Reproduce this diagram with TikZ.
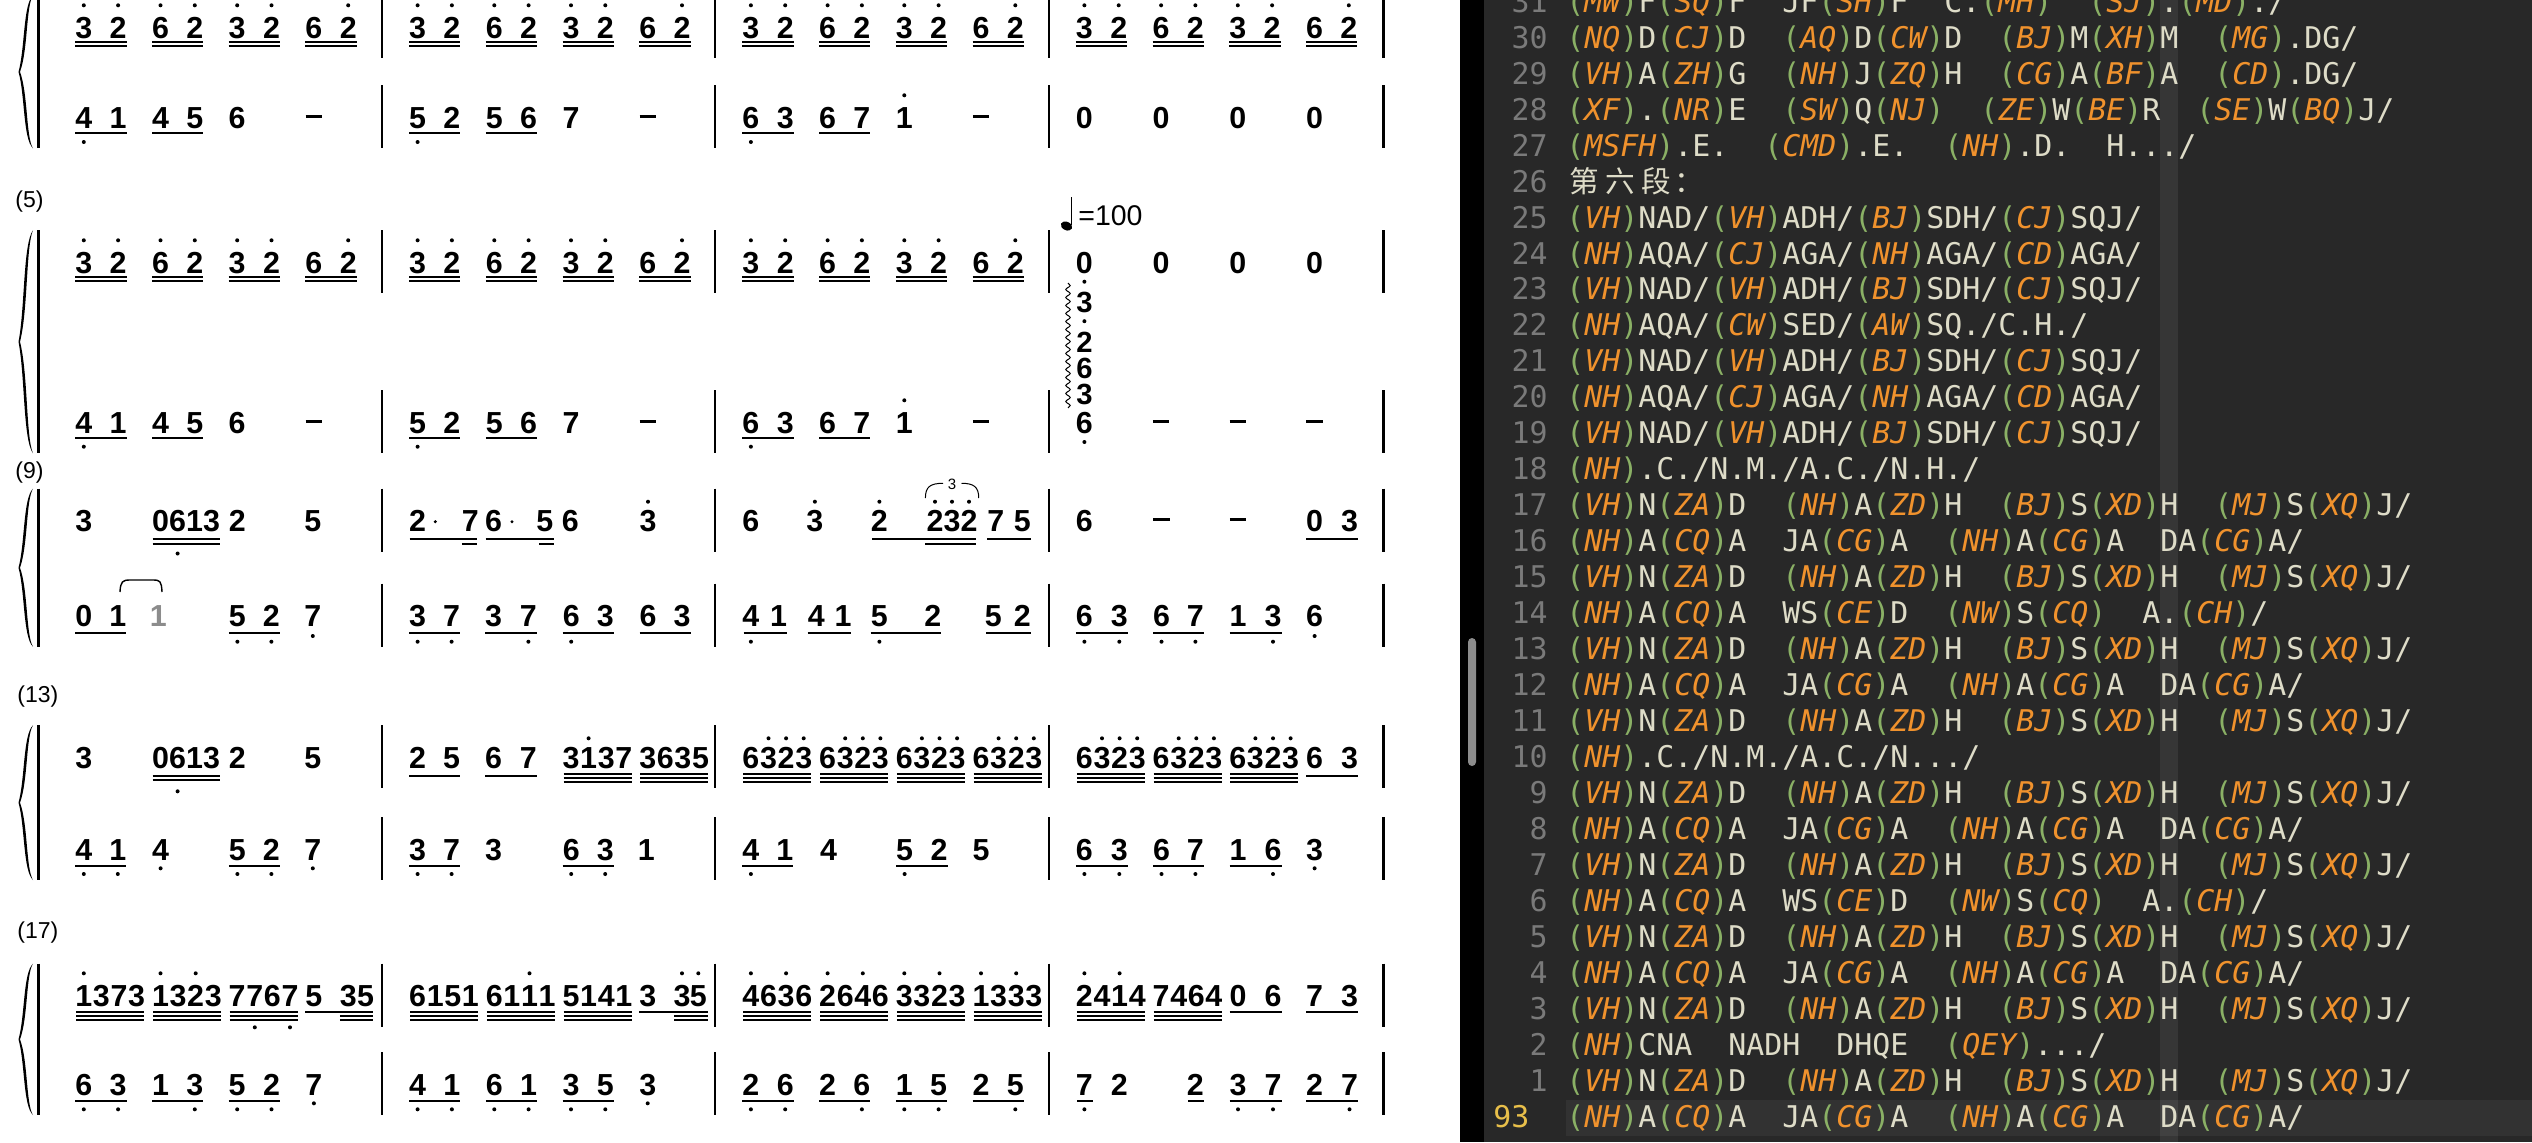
\documentclass[tikz,border=0pt]{standalone}
\usepackage{fontspec}
\usetikzlibrary{decorations.pathmorphing}
\newfontfamily\mfont{Liberation Sans}
\newfontfamily\mono{DejaVu Sans Mono}
\newfontfamily\cjk{Noto Sans CJK SC}
\definecolor{edbg}{HTML}{282828}
\definecolor{strp}{HTML}{363636}
\definecolor{strpb}{HTML}{414141}
\definecolor{curl}{HTML}{323232}
\definecolor{pg}{HTML}{8AB065}
\definecolor{po}{HTML}{F0922D}
\definecolor{ct}{HTML}{DEDCC8}
\definecolor{lnc}{HTML}{7A7A7A}
\definecolor{lcur}{HTML}{E8BF4A}
\definecolor{sbc}{HTML}{8C8C8C}
\newcounter{nc}
\tikzset{
  nt/.style={font=\mfont\bfseries\fontsize{15.2}{18}\selectfont, inner sep=0pt, anchor=base},
  chd/.style={font=\mfont\bfseries\fontsize{14.6}{17}\selectfont, inner sep=0pt, anchor=base},
  lbl/.style={font=\mfont\fontsize{11.5}{14}\selectfont, inner sep=0pt, anchor=west},
  ul/.style={line width=0.9pt},
  dsh/.style={line width=1.3pt},
  bar/.style={line width=1.2pt},
  sysline/.style={line width=1.5pt},
  lnum/.style={font=\mono\fontsize{14.95}{18}\selectfont, text=lnc, inner sep=0pt, anchor=base east},
  code/.style={font=\mono\fontsize{14.95}{18}\selectfont, text=ct, inner sep=0pt, anchor=base west},
  cjkn/.style={font=\cjk\fontsize{14.8}{18}\selectfont, text=ct, inner sep=0pt, anchor=base}
}
% music helpers
\newcommand\nn[2]{\stepcounter{nc}\node[nt] (n\arabic{nc}) at (#1,\yb) {#2};}
\newcommand\da[1]{\fill (#1,\yb-\dau) circle[radius=1pt];}
\newcommand\db[2]{\fill (#1,\yb+#2) circle[radius=1pt];}
\newcommand\ulx[3]{\draw[ul] (#1,\yb+#3) -- (#2,\yb+#3);}
\newcommand\dsh[1]{\draw[dsh] (#1-8.2,\yb-12) -- (#1+8.2,\yb-12);}
\newcommand\ad[1]{\fill (#1,\yb-10) circle[radius=0.85pt];}
\newcommand\prr[4]{\nn{#1}{#3}\nn{#2}{#4}\ulx{#1-8.5}{#2+8.5}{\ulo}}
\newcommand\grp[5]{\nn{#1}{#2}\nn{#1+17.6}{#3}\nn{#1+35.2}{#4}\nn{#1+52.8}{#5}%
  \ulx{#1-7.5}{#1+60.5}{\ga}\ulx{#1-7.5}{#1+60.5}{\gb}\ulx{#1-7.5}{#1+60.5}{\gc}}
\newcommand\uppat[1]{%
  \nn{#1}{3}\nn{#1+34.3}{2}\nn{#1+76.7}{6}\nn{#1+111}{2}%
  \nn{#1+153.4}{3}\nn{#1+187.7}{2}\nn{#1+230.1}{6}\nn{#1+264.4}{2}%
  \da{#1}\da{#1+34.3}\da{#1+76.7}\da{#1+111}\da{#1+153.4}\da{#1+187.7}\da{#1+264.4}%
  \foreach \kk in {0,76.7,153.4,230.1}{\ulx{#1+\kk-8.5}{#1+\kk+42.8}{3.8}\ulx{#1+\kk-8.5}{#1+\kk+42.8}{7.6}}}
\newcommand\lowpat[6]{%
  \nn{#1}{#2}\nn{#1+34.3}{#3}\db{#1}{\dbu}\ulx{#1-8.5}{#1+42.8}{\ulo}%
  \nn{#1+76.7}{#4}\nn{#1+111}{#5}\ulx{#1+68.2}{#1+119.5}{\ulo}%
  \nn{#1+153.4}{#6}\dsh{#1+230.1}}
\newcommand\brc[2]{\pgfmathsetmacro\bt{#1}\pgfmathsetmacro\bb{#2}%
  \pgfmathsetmacro\bmid{(\bt+\bb)/2}\pgfmathsetmacro\bh{(\bb-\bt)/2}%
  \fill (33,\bt) .. controls (23,\bt+0.12*\bh) and (25,\bmid-0.3*\bh) .. (18.5,\bmid)
    .. controls (25,\bmid+0.3*\bh) and (23,\bb-0.12*\bh) .. (33,\bb)
    .. controls (26,\bb-0.14*\bh) and (28,\bmid+0.28*\bh) .. (20,\bmid)
    .. controls (28,\bmid-0.28*\bh) and (26,\bt+0.14*\bh) .. (33,\bt) -- cycle;}
\newcommand\sysl[2]{%
  \draw[sysline] (38.6,#1-43) -- (38.6,#2+20);
  \foreach \bx in {382,715,1049,1383.5}{\draw[bar] (\bx,#1-43) -- (\bx,#1+20); \draw[bar] (\bx,#2-43) -- (\bx,#2+20);}
  \brc{#1-43}{#2+20}}
% editor helpers
\newcommand\pq[1]{\textcolor{pg}{(}\textcolor{po}{\itshape #1}\textcolor{pg}{)}}
\newcommand\sk{\hphantom{0}}
\newcommand\eline[3]{\node[lnum] (ln#1) at (1548,{12.3+35.96*#1}) {#2};\node[code] (cl#1) at (1566,{12.3+35.96*#1}) {#3};}
\newcommand\LA{\pq{VH}N\pq{ZA}D\sk\sk\pq{NH}A\pq{ZD}H\sk\sk\pq{BJ}S\pq{XD}H\sk\sk\pq{MJ}S\pq{XQ}J/}
\newcommand\LB{\pq{NH}A\pq{CQ}A\sk\sk JA\pq{CG}A\sk\sk\pq{NH}A\pq{CG}A\sk\sk DA\pq{CG}A/}
\newcommand\LC{\pq{NH}A\pq{CQ}A\sk\sk WS\pq{CE}D\sk\sk\pq{NW}S\pq{CQ}\sk\sk A.\pq{CH}/}
\newcommand\LD{\pq{VH}NAD/\pq{VH}ADH/\pq{BJ}SDH/\pq{CJ}SQJ/}
\newcommand\LE{\pq{NH}AQA/\pq{CJ}AGA/\pq{NH}AGA/\pq{CD}AGA/}
\begin{document}
\begin{tikzpicture}[x=0.5pt,y=-0.5pt]
\useasboundingbox (0,0) rectangle (2532,1142);
\fill[white] (0,0) rectangle (1460,1142);
% ===== editor panel =====
\fill[black] (1460,0) rectangle (1484,1142);
\fill[edbg] (1484,0) rectangle (2532,1142);
\fill[sbc, rounded corners=2pt] (1468,638) rectangle (1476,766);
\fill[curl] (1566,1100) rectangle (2532,1136);
\fill[strp] (2160,0) rectangle (2178,1142);
\fill[strpb] (2160,1100) rectangle (2178,1136);
\eline{0}{31}{\pq{MW}F\pq{SQ}F\sk\sk JF\pq{SH}F\sk\sk C.\pq{MH}\sk\sk\pq{SJ}.\pq{MD}./}
\eline{1}{30}{\pq{NQ}D\pq{CJ}D\sk\sk\pq{AQ}D\pq{CW}D\sk\sk\pq{BJ}M\pq{XH}M\sk\sk\pq{MG}.DG/}
\eline{2}{29}{\pq{VH}A\pq{ZH}G\sk\sk\pq{NH}J\pq{ZQ}H\sk\sk\pq{CG}A\pq{BF}A\sk\sk\pq{CD}.DG/}
\eline{3}{28}{\pq{XF}.\pq{NR}E\sk\sk\pq{SW}Q\pq{NJ}\sk\sk\pq{ZE}W\pq{BE}R\sk\sk\pq{SE}W\pq{BQ}J/}
\eline{4}{27}{\pq{MSFH}.E.\sk\sk\pq{CMD}.E.\sk\sk\pq{NH}.D.\sk\sk H.../}
\node[lnum] (ln5) at (1548,192.1) {26};
\node[cjkn] (cj1) at (1584,192.1) {第};
\node[cjkn] (cj2) at (1620,192.1) {六};
\node[cjkn] (cj3) at (1656,192.1) {段};
\node[cjkn, anchor=base west] (cj4) at (1674,192.1) {：};
\eline{6}{25}{\LD}
\eline{7}{24}{\LE}
\eline{8}{23}{\LD}
\eline{9}{22}{\pq{NH}AQA/\pq{CW}SED/\pq{AW}SQ./C.H./}
\eline{10}{21}{\LD}
\eline{11}{20}{\LE}
\eline{12}{19}{\LD}
\eline{13}{18}{\pq{NH}.C./N.M./A.C./N.H./}
\eline{14}{17}{\LA}
\eline{15}{16}{\LB}
\eline{16}{15}{\LA}
\eline{17}{14}{\LC}
\eline{18}{13}{\LA}
\eline{19}{12}{\LB}
\eline{20}{11}{\LA}
\eline{21}{10}{\pq{NH}.C./N.M./A.C./N.../}
\eline{22}{9}{\LA}
\eline{23}{8}{\LB}
\eline{24}{7}{\LA}
\eline{25}{6}{\LC}
\eline{26}{5}{\LA}
\eline{27}{4}{\LB}
\eline{28}{3}{\LA}
\eline{29}{2}{\pq{NH}CNA\sk\sk NADH\sk\sk DHQE\sk\sk\pq{QEY}.../}
\eline{30}{1}{\LA}
\node[lnum, text=lcur, anchor=base west] (ln31) at (1493,1127.1) {93};
\node[code] (cl31) at (1566,1127.1) {\LB};
% ===== music panel =====
\sysl{38.3}{128.3}
\sysl{273.3}{433.3}
\sysl{531.7}{626.7}
\sysl{768.3}{860}
\sysl{1006.7}{1095}
\node[lbl] (lab5) at (15,202) {(5)};
\node[lbl] (lab9) at (15,473) {(9)};
\node[lbl] (lab13) at (17,697) {(13)};
\node[lbl] (lab17) at (17,933) {(17)};
% --- system 1 ---
\def\yb{38.3}\def\dau{33}
\foreach \ox in {83.8,417.6,750.9,1084.4}{\uppat{\ox}}
\def\yb{128.3}\def\ulo{4.6}\def\dbu{13.7}
\lowpat{83.8}{4}{1}{4}{5}{6}
\lowpat{417.6}{5}{2}{5}{6}{7}
\lowpat{750.9}{6}{3}{6}{7}{1}\da{904.3}
\foreach \kk in {0,76.7,153.4,230.1}{\nn{1084.4+\kk}{0}}
% --- system 2 ---
\def\yb{273.3}\def\dau{33}
\foreach \ox in {83.8,417.6,750.9}{\uppat{\ox}}
\foreach \kk in {0,76.7,153.4,230.1}{\nn{1084.4+\kk}{0}}
\fill[rotate around={-25:(1066.5,226)}] (1066.5,226) ellipse [x radius=3pt, y radius=2.1pt];
\draw[line width=0.7pt] (1071.5,225) -- (1071.5,196.5);
\node[anchor=base west, inner sep=0pt, font=\mfont\fontsize{14.25}{16}\selectfont] (tempo) at (1078,225) {=100};
\def\yb{433.3}\def\ulo{5}\def\dbu{13.4}
\lowpat{83.8}{4}{1}{4}{5}{6}
\lowpat{417.6}{5}{2}{5}{6}{7}
\lowpat{750.9}{6}{3}{6}{7}{1}\da{904.3}
\node[chd] (ch1) at (1084.4,312.5) {3}; \fill (1084.4,281.7) circle[radius=1pt];
\node[chd] (ch2) at (1084.4,352) {2}; \fill (1084.4,321.2) circle[radius=1pt];
\node[chd] (ch3) at (1084.4,378.5) {6};
\node[chd] (ch4) at (1084.4,404.5) {3};
\node[nt] (ch5) at (1084.4,433.3) {6}; \fill (1084.4,442) circle[radius=1pt];
\draw[line width=0.5pt, decorate, decoration={snake, amplitude=1.1pt, segment length=4pt}] (1068,283) -- (1068,408);
\dsh{1161.1}\dsh{1237.8}\dsh{1314.5}
% --- system 3 ---
\def\yb{531.7}\def\dau{30}
\nn{83.8}{3}
\nn{160.6}{0}\nn{177.6}{6}\nn{194.6}{1}\nn{211.6}{3}
\ulx{152.7}{219.7}{7.6}\ulx{152.7}{219.7}{12}\db{177.6}{21.8}
\nn{237.4}{2}\nn{312.8}{5}
\nn{417.6}{2}\ad{435.3}\nn{470.2}{7}\ulx{409.7}{477.2}{7.6}\ulx{461.8}{477.2}{12.3}
\nn{493.5}{6}\ad{512}\nn{544.7}{5}\ulx{485.6}{554}{7.6}\ulx{539}{554}{12.3}
\nn{570.3}{6}\nn{648}{3}\da{648}
\nn{750.9}{6}\nn{814.9}{3}\da{814.9}\nn{879.4}{2}\da{879.4}
\nn{935}{2}\nn{952}{3}\nn{969}{2}\da{935}\da{952}\da{969}
\nn{995.7}{7}\nn{1022.4}{5}
\ulx{872}{976.3}{7.6}\ulx{925.4}{976.3}{12.3}\ulx{987}{1030.6}{7.6}
\node[inner sep=0pt, font=\mfont\fontsize{7.5}{9}\selectfont] (trip) at (952,484) {3};
\draw[line width=0.5pt] (925.4,498) .. controls (925.4,487) and (930,483.3) .. (943,483.3);
\draw[line width=0.5pt] (961.5,483.3) .. controls (974,483.3) and (978.7,487) .. (978.7,498);
\nn{1084.4}{6}\dsh{1161.5}\dsh{1238}
\def\ulo{7.6}\prr{1314.6}{1349.5}{0}{3}
\def\yb{626.7}\def\ulo{6}
\prr{83.8}{117.8}{0}{1}
\node[nt, text=black!45] (g1) at (158.3,626.7) {1};
\draw[line width=0.7pt] (120,592) .. controls (120.5,581) and (123,580) .. (130,580) -- (153,580) .. controls (160,580) and (161.5,581) .. (162,592);
\prr{237.4}{271.4}{5}{2}\db{237.4}{15}\db{271.4}{15}
\nn{312.8}{7}\db{312.8}{9.3}
\prr{417.6}{451.6}{3}{7}\db{417.6}{15}\db{451.6}{15}
\prr{493.5}{528.4}{3}{7}\db{528.4}{15}
\prr{571.2}{605.2}{6}{3}\db{571.2}{15}
\prr{648}{682}{6}{3}
\nn{750.9}{4}\nn{778.5}{1}\ulx{743.6}{787.3}{6}\db{750.9}{15}
\nn{816.3}{4}\nn{843}{1}\ulx{807.6}{851.2}{6}
\nn{879.4}{5}\nn{932.7}{2}\ulx{870.6}{941}{6}\db{879.4}{15}
\nn{993.3}{5}\nn{1022.4}{2}\ulx{986}{1031}{6}
\prr{1084.4}{1119.3}{6}{3}\db{1084.4}{15}\db{1119.3}{15}
\prr{1161.5}{1195.4}{6}{7}\db{1161.5}{15}\db{1195.4}{15}
\prr{1238}{1273}{1}{3}\db{1273}{15}
\nn{1314.6}{6}\db{1314.6}{9.3}
% --- system 4 ---
\def\yb{768.3}\def\dau{30}\def\ulo{7.5}\def\ga{6}\def\gb{10}\def\gc{14}
\nn{83.8}{3}
\nn{160.6}{0}\nn{177.6}{6}\nn{194.6}{1}\nn{211.6}{3}
\ulx{152.7}{219.7}{7.6}\ulx{152.7}{219.7}{12}\db{177.6}{23}
\nn{237.4}{2}\nn{312.8}{5}
\prr{417.6}{451.6}{2}{5}\prr{493.5}{528.4}{6}{7}
\grp{571}{3}{1}{3}{7}\da{588.6}
\grp{647.7}{3}{6}{3}{5}
\foreach \ox in {750.9,827.6,904.3,981,1084.4,1161.1,1237.8}{\grp{\ox}{6}{3}{2}{3}\da{\ox+17.6}\da{\ox+35.2}\da{\ox+52.8}}
\prr{1314.6}{1349.5}{6}{3}
\def\yb{860}\def\ulo{6}
\prr{83.8}{117.8}{4}{1}\db{83.8}{14}\db{117.8}{14}
\nn{160.6}{4}\db{160.6}{8.3}
\prr{237.4}{271.4}{5}{2}\db{237.4}{14}\db{271.4}{14}
\nn{312.8}{7}\db{312.8}{8.3}
\prr{417.6}{451.6}{3}{7}\db{417.6}{14}\db{451.6}{14}
\nn{493.5}{3}
\prr{571.2}{605.2}{6}{3}\db{571.2}{14}\db{605.2}{14}
\nn{646.2}{1}
\prr{750.9}{784.8}{4}{1}\db{750.9}{14}
\nn{828.5}{4}
\prr{904.6}{939}{5}{2}\db{904.6}{14}
\nn{981.1}{5}
\prr{1084.4}{1119.3}{6}{3}\db{1084.4}{14}\db{1119.3}{14}
\prr{1161.5}{1195.4}{6}{7}\db{1161.5}{14}\db{1195.4}{14}
\prr{1238}{1273}{1}{6}\db{1273}{14}
\nn{1314.6}{3}\db{1314.6}{8.3}
% --- system 5 ---
\def\yb{1006.7}\def\dau{33.4}\def\ga{5}\def\gb{9.2}\def\gc{13.4}\def\ulo{5}
\grp{83.8}{1}{3}{7}{3}\da{83.8}
\grp{160.5}{1}{3}{2}{3}\da{160.5}\da{195.7}
\grp{237.2}{7}{7}{6}{7}\db{254.8}{20.6}\db{290}{20.6}
\nn{313.9}{5}\nn{348.2}{3}\nn{365.5}{5}\ulx{305}{373.4}{5}\ulx{339.9}{373.4}{9.2}\ulx{339.9}{373.4}{13.4}
\grp{417.6}{6}{1}{5}{1}
\grp{494.3}{6}{1}{1}{1}\da{529.5}
\grp{571}{5}{1}{4}{1}
\nn{647.7}{3}\nn{682}{3}\nn{698.3}{5}\da{682}\da{698.3}\ulx{639.2}{707.6}{5}\ulx{674.1}{707.6}{9.2}\ulx{674.1}{707.6}{13.4}
\grp{750.9}{4}{6}{3}{6}\da{750.9}\da{786.1}
\grp{827.6}{2}{6}{4}{6}\da{827.6}\da{862.8}
\grp{904.3}{3}{3}{2}{3}\da{904.3}\da{939.5}
\grp{981}{1}{3}{3}{3}\da{981}\da{1016.2}
\grp{1084.4}{2}{4}{1}{4}\da{1084.4}\da{1119.6}
\grp{1161.1}{7}{4}{6}{4}
\prr{1238}{1273}{0}{6}
\prr{1314.6}{1349.5}{7}{3}
\def\yb{1095}\def\ulo{5.7}
\prr{83.8}{118.1}{6}{3}\db{83.8}{14.3}\db{118.1}{14.3}
\prr{160.5}{194.8}{1}{3}\db{194.8}{14.3}
\prr{237.2}{271.5}{5}{2}\db{237.2}{14.3}\db{271.5}{14.3}
\nn{313.9}{7}\db{313.9}{8.3}
\prr{417.6}{451.9}{4}{1}\db{417.6}{14.3}\db{451.9}{14.3}
\prr{494.3}{528.6}{6}{1}\db{494.3}{14.3}\db{528.6}{14.3}
\prr{571}{605.3}{3}{5}\db{571}{14.3}\db{605.3}{14.3}
\nn{647.7}{3}\db{647.7}{8.3}
\prr{750.9}{785.2}{2}{6}\db{750.9}{14.3}\db{785.2}{14.3}
\prr{827.6}{861.9}{2}{6}\db{861.9}{14.3}
\prr{904.3}{938.6}{1}{5}\db{904.3}{14.3}\db{938.6}{14.3}
\prr{981}{1015.3}{2}{5}\db{1015.3}{14.3}
\nn{1084.4}{7}\ulx{1077}{1092.6}{5.7}\db{1084.4}{14.3}
\nn{1119.3}{2}
\nn{1195.4}{2}\ulx{1188}{1204}{5.7}
\prr{1238}{1273}{3}{7}\db{1238}{14.3}\db{1273}{14.3}
\prr{1314.6}{1349.5}{2}{7}\db{1349.5}{14.3}
\end{tikzpicture}
\end{document}
